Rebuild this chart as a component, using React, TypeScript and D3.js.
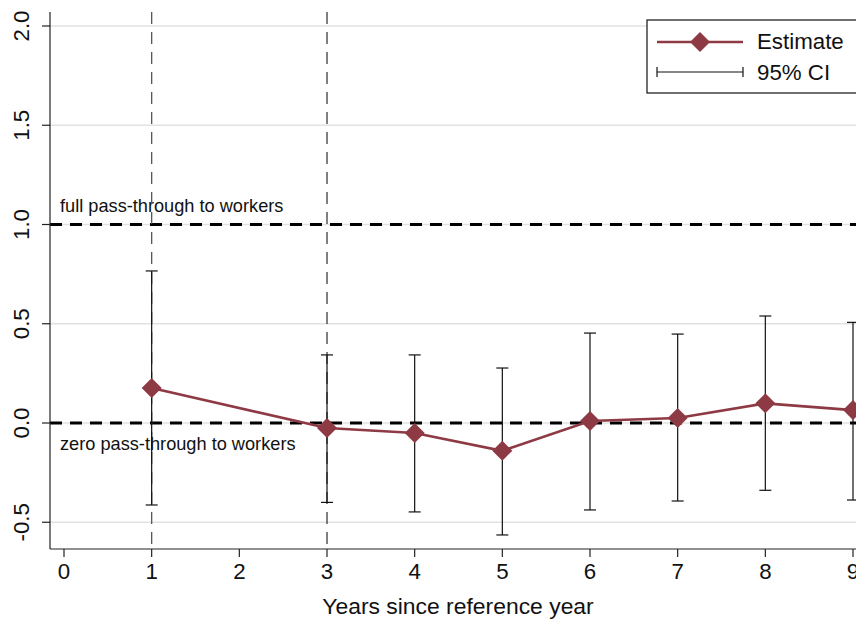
import React from "react";
import * as d3 from "d3";

const years = [1, 3, 4, 5, 6, 7, 8, 9];
const estimates = [0.176, -0.025, -0.05, -0.14, 0.01, 0.025, 0.099, 0.065];
const ciLow = [-0.413, -0.4, -0.448, -0.564, -0.438, -0.393, -0.339, -0.388];
const ciHigh = [0.766, 0.343, 0.343, 0.277, 0.453, 0.448, 0.539, 0.507];
const xTicks = [0, 1, 2, 3, 4, 5, 6, 7, 8, 9];
const yTicks = [-0.5, 0, 0.5, 1, 1.5, 2];
const yTickLabels = ["-0.5", "0.0", "0.5", "1.0", "1.5", "2.0"];
const refLines = [1, 0];
const refLabels = ["full pass-through to workers", "zero pass-through to workers"];
const vLines = [1, 3];

const W = 856;
const H = 621;
const FONT = "'Liberation Sans', Arial, sans-serif";
const RED = "#8e3a44";

export default function App() {
  const x = d3.scaleLinear().domain([0, 9]).range([64, 853]);
  const y = d3.scaleLinear().domain([0, 2]).range([423, 26]);
  const axisLeft = 50;
  const axisBottom = 549;
  const plotTop = 12;

  const line = d3
    .line<number>()
    .x((_, i) => x(years[i]))
    .y((d) => y(d));

  const diamond = (cx: number, cy: number, r: number) =>
    `M${cx},${cy - r}L${cx + r},${cy}L${cx},${cy + r}L${cx - r},${cy}Z`;

  return (
    <svg
      width={W}
      height={H}
      style={{ position: "absolute", left: 0, top: 0, background: "#fff" }}
      fontFamily={FONT}
    >
      <rect x={0} y={0} width={W} height={H} fill="#fff" />
      {/* gridlines */}
      {yTicks.map((t) => (
        <line
          key={"g" + t}
          x1={axisLeft}
          x2={W}
          y1={y(t)}
          y2={y(t)}
          stroke="#e2e2e2"
          strokeWidth={1.6}
        />
      ))}
      {/* reference horizontal lines */}
      {refLines.map((v) => (
        <line
          key={"r" + v}
          x1={axisLeft}
          x2={W}
          y1={y(v)}
          y2={y(v)}
          stroke="#000"
          strokeWidth={2.8}
          strokeDasharray="12 8"
        />
      ))}
      <text x={60} y={y(1) - 12.5} fontSize={18.2} fill="#111">
        {refLabels[0]}
      </text>
      <text x={60} y={y(0) + 26.5} fontSize={18.2} fill="#111">
        {refLabels[1]}
      </text>
      {/* vertical dashed lines */}
      <line
        x1={x(vLines[0])}
        x2={x(vLines[0])}
        y1={plotTop}
        y2={axisBottom}
        stroke="#555"
        strokeWidth={1.3}
        strokeDasharray="12 8"
      />
      <line
        x1={x(vLines[1])}
        x2={x(vLines[1])}
        y1={plotTop}
        y2={axisBottom}
        stroke="#000"
        strokeWidth={1}
        strokeDasharray="12 8"
      />
      {/* CI bars */}
      {years.map((yr, i) => (
        <g key={"ci" + yr} stroke="#111" strokeWidth={1.2}>
          <line x1={x(yr)} x2={x(yr)} y1={y(ciLow[i])} y2={y(ciHigh[i])} />
          <line x1={x(yr) - 6} x2={x(yr) + 6} y1={y(ciLow[i])} y2={y(ciLow[i])} />
          <line x1={x(yr) - 6} x2={x(yr) + 6} y1={y(ciHigh[i])} y2={y(ciHigh[i])} />
        </g>
      ))}
      {/* estimate line */}
      <path d={line(estimates) || ""} fill="none" stroke={RED} strokeWidth={2.6} />
      {years.map((yr, i) => (
        <path key={"d" + yr} d={diamond(x(yr), y(estimates[i]), 10)} fill={RED} />
      ))}
      {/* axes */}
      <line x1={axisLeft} x2={axisLeft} y1={plotTop} y2={axisBottom} stroke="#222" strokeWidth={1.2} />
      <line x1={axisLeft} x2={W} y1={axisBottom} y2={axisBottom} stroke="#222" strokeWidth={1.2} />
      {yTicks.map((t, i) => (
        <g key={"yt" + t}>
          <line x1={axisLeft - 8} x2={axisLeft} y1={y(t)} y2={y(t)} stroke="#222" strokeWidth={1.2} />
          <text
            transform={`translate(${29},${y(t)}) rotate(-90)`}
            textAnchor="middle"
            fontSize={22.3}
            fill="#111"
          >
            {yTickLabels[i]}
          </text>
        </g>
      ))}
      {xTicks.map((t) => (
        <g key={"xt" + t}>
          <line x1={x(t)} x2={x(t)} y1={axisBottom} y2={axisBottom + 8} stroke="#222" strokeWidth={1.2} />
          <text x={x(t)} y={579} textAnchor="middle" fontSize={22.3} fill="#111">
            {t}
          </text>
        </g>
      ))}
      <text x={458} y={614} textAnchor="middle" fontSize={22.9} fill="#111">
        Years since reference year
      </text>
      {/* legend */}
      <rect x={647} y={20} width={220} height={73} fill="#fff" stroke="#111" strokeWidth={1.2} />
      <line x1={657} x2={743} y1={42} y2={42} stroke={RED} strokeWidth={2.6} />
      <path d={diamond(700, 42, 10)} fill={RED} />
      <text x={757} y={49} fontSize={22.3} fill="#111">
        Estimate
      </text>
      <g stroke="#111" strokeWidth={1.2}>
        <line x1={657} x2={743} y1={72} y2={72} />
        <line x1={657} x2={657} y1={67} y2={77} />
        <line x1={743} x2={743} y1={67} y2={77} />
      </g>
      <text x={757} y={80} fontSize={22.3} fill="#111">
        95% CI
      </text>
    </svg>
  );
}
